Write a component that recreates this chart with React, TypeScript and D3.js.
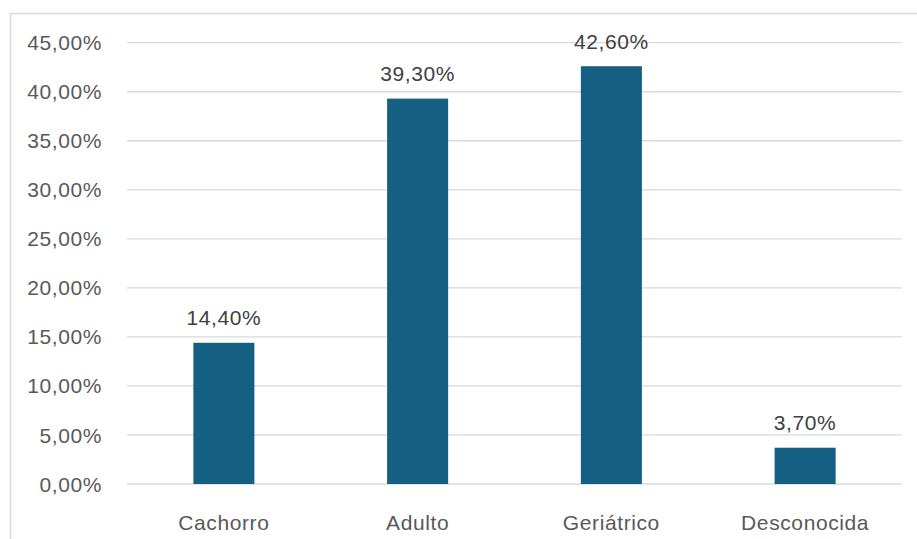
import React from 'react';
import * as d3 from 'd3';

const categories = ['Cachorro', 'Adulto', 'Geriátrico', 'Desconocida'];
const values = [14.4, 39.3, 42.6, 3.7];
const yTicks = [0, 5, 10, 15, 20, 25, 30, 35, 40, 45];

const fmt = (v: number) => v.toFixed(2).replace('.', ',') + '%';

const App = () => {
  const width = 917;
  const height = 539;
  const plot = { left: 127, right: 902, top: 42.7, bottom: 484 };

  const x = d3.scaleBand<string>()
    .domain(categories)
    .range([plot.left, plot.right])
    .padding(0);

  const y = d3.scaleLinear()
    .domain([0, 45])
    .range([plot.bottom, plot.top]);

  const barW = x.bandwidth() * 0.315;
  const font = '"Liberation Sans", Arial, sans-serif';

  return (
    <div style={{ position: 'fixed', left: 0, top: 0, width, height, background: '#fff' }}>
      <svg width={width} height={height} style={{ display: 'block' }}>
        {/* marco del gráfico */}
        <rect x={10.5} y={13.5} width={width} height={height} fill="none" stroke="#d9d9d9" strokeWidth={1.5} />

        {yTicks.map(t => (
          <g key={t}>
            <line x1={plot.left} x2={plot.right} y1={y(t)} y2={y(t)} stroke="#d9d9d9" strokeWidth={1.3} />
            <text x={102} y={y(t)} dy="0.36em" textAnchor="end" fontFamily={font} fontSize={21}
              letterSpacing={0.6} fill="#595959">{fmt(t)}</text>
          </g>
        ))}

        {categories.map((c, i) => {
          const cx = x(c)! + x.bandwidth() / 2;
          return (
            <g key={c}>
              <rect x={cx - barW / 2} y={y(values[i])} width={barW} height={y(0) - y(values[i])} fill="#156082" />
              <text x={cx} y={y(values[i]) - 17.5} textAnchor="middle" fontFamily={font} fontSize={21}
                letterSpacing={0.6} fill="#404040">{fmt(values[i])}</text>
              <text x={cx} y={530} textAnchor="middle" fontFamily={font} fontSize={21}
                letterSpacing={0.6} fill="#595959">{c}</text>
            </g>
          );
        })}
      </svg>
    </div>
  );
};

export default App;
